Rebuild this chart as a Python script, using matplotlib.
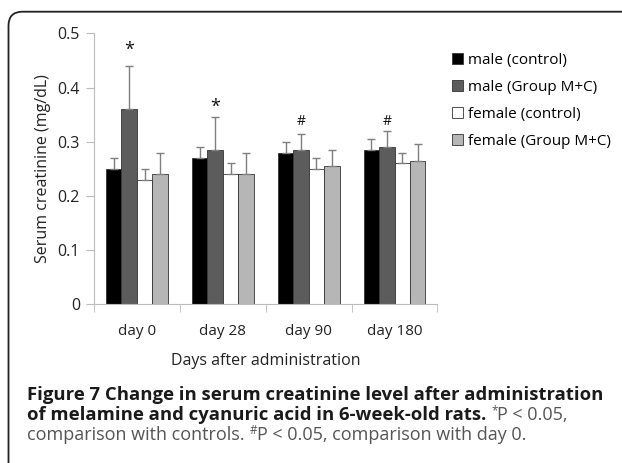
import matplotlib
matplotlib.use('Agg')
import matplotlib.pyplot as plt
from matplotlib.patches import FancyBboxPatch
import numpy as np

#-----------
# DATA
#-----------
days = ['day 0', 'day 28', 'day 90', 'day 180']
series = ['male (control)', 'male (Group M+C)', 'female (control)', 'female (Group M+C)']
male_ctrl = [0.25, 0.27, 0.28, 0.285]
male_mc = [0.36, 0.285, 0.285, 0.29]
female_ctrl = [0.23, 0.24, 0.25, 0.26]
female_mc = [0.24, 0.24, 0.255, 0.265]
male_ctrl_err = [0.02, 0.02, 0.02, 0.02]
male_mc_err = [0.08, 0.06, 0.03, 0.03]
female_ctrl_err = [0.02, 0.02, 0.02, 0.02]
female_mc_err = [0.04, 0.04, 0.03, 0.03]
# (group index, series index, marker, y)
marks = [(0, 1, '*', 0.47), (1, 1, '*', 0.365), (2, 1, '#', 0.338), (3, 1, '#', 0.338)]

values = [male_ctrl, male_mc, female_ctrl, female_mc]
errors = [male_ctrl_err, male_mc_err, female_ctrl_err, female_mc_err]
colors = ['#000000', '#5c5c5c', '#ffffff', '#b6b6b6']

FONT = 'Open Sans'
plt.rcParams['font.family'] = [FONT, 'DejaVu Sans']

fig = plt.figure(figsize=(6.22, 4.63), dpi=100)
ax = fig.add_axes([94/622, 1-304.3/463, (437.5-94)/622, (304.3-33.3)/463])

x = np.arange(len(days))
w = 0.18
for i, (vals, errs) in enumerate(zip(values, errors)):
  pos = x + (i - 1.5) * w
  ax.bar(pos, vals, w, color=colors[i], edgecolor='#333333', linewidth=0.6,
    label=series[i], zorder=2)
  ax.errorbar(pos, vals, yerr=[np.zeros(len(errs)), errs], fmt='none',
    ecolor='#7f7f7f', elinewidth=1, capsize=3, capthick=1, zorder=3)

for g, s, m, y in marks:
  ax.text(x[g] + (s - 1.5) * w, y, m, ha='center', va='center',
    fontsize=13 if m == '*' else 10, color='#111111')

ax.set_xlim(-0.5, len(days) - 0.5)
ax.set_ylim(0, 0.5)
ax.set_yticks([0, 0.1, 0.2, 0.3, 0.4, 0.5])
ax.set_yticklabels(['0', '0.1', '0.2', '0.3', '0.4', '0.5'])
ax.set_xticks(x)
ax.set_xticklabels(days)
ax.set_xticks(np.arange(len(days) + 1) - 0.5, minor=True)
ax.tick_params(axis='x', which='major', length=0, pad=14, labelsize=11, colors='#222222')
ax.tick_params(axis='x', which='minor', length=6, color='#bbbbbb')
ax.tick_params(axis='y', length=6, color='#bbbbbb', labelsize=11.5, labelcolor='#222222', pad=4)
for sp in ['top', 'right']:
  ax.spines[sp].set_visible(False)
for sp in ['left', 'bottom']:
  ax.spines[sp].set_color('#bbbbbb')
ax.set_ylabel('Serum creatinine (mg/dL)', fontsize=11.5, color='#222222', labelpad=5)
ax.set_xlabel('Days after administration', fontsize=11.5, color='#222222', labelpad=10)

leg = ax.legend(loc='upper left', bbox_to_anchor=(452/622, 1-53/463), bbox_transform=fig.transFigure,
  frameon=False, fontsize=11, handlelength=0.7, handleheight=0.7, handletextpad=0.35,
  labelspacing=0.78, borderaxespad=0, borderpad=0)

# frame with rounded top-left corner
frame = FancyBboxPatch((0.085, -1), 10, (463 - 11.7)/100 + 1,
  boxstyle='round,pad=0,rounding_size=0.14', transform=fig.dpi_scale_trans,
  facecolor='none', edgecolor='#222222', linewidth=1.3, clip_on=False)
fig.patches.append(frame)

# caption, drawn in pieces
def place(pieces, x0, y):
  fig.canvas.draw()
  r = fig.canvas.get_renderer()
  xc = x0
  for txt, kw in pieces:
    dy = kw.pop('dy', 0)
    t = fig.text(xc/622, 1 - (y - dy)/463, txt, va='baseline', ha='left', **kw)
    xc += t.get_window_extent(renderer=r).width
  return xc

B = dict(fontsize=13.3, fontweight='bold', color='#1a1a1a')
N = dict(fontsize=13.0, color='#555555')
S = dict(fontsize=8.5, color='#555555', dy=6)
place([('Figure 7 Change in serum creatinine level after administration', dict(B))], 27, 400)
place([('of melamine and cyanuric acid in 6-week-old rats. ', dict(B)),
  ('*', dict(S)), ('P < 0.05,', dict(N))], 27, 420)
place([('comparison with controls. ', dict(N)), ('#', dict(S)),
  ('P < 0.05, comparison with day 0.', dict(N))], 27, 440)

fig.savefig('out.png', dpi=100)
